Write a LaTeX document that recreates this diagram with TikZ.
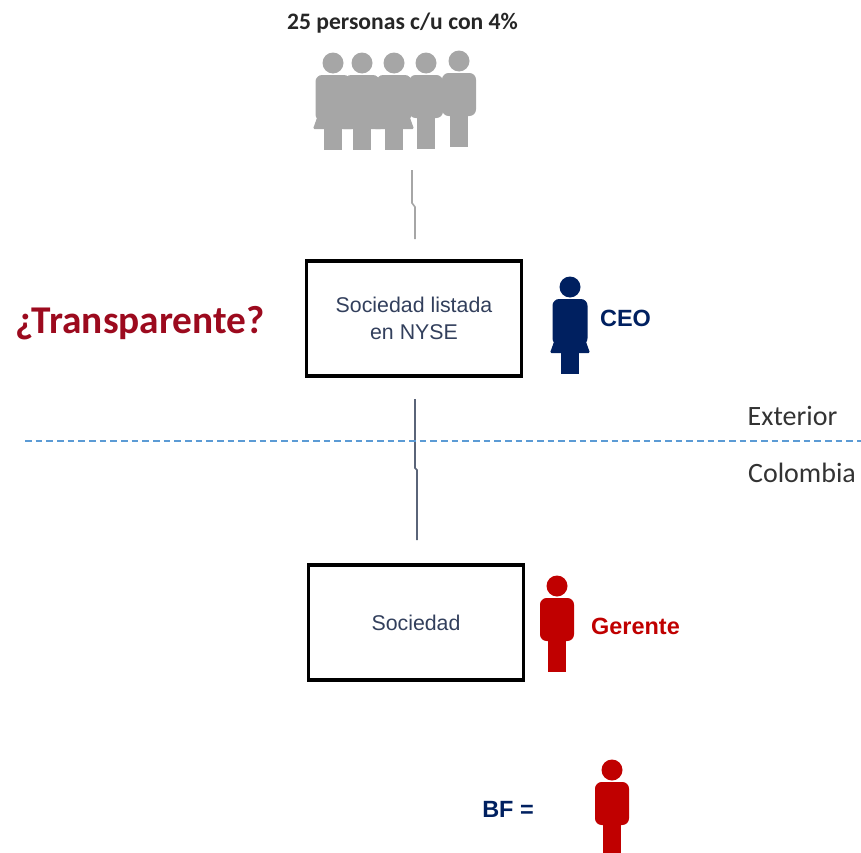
\documentclass[tikz,border=0pt]{standalone}
\usepackage{fontspec}
\setmainfont{Liberation Sans}
\newfontfamily\calibri{Carlito}
\definecolor{azul}{HTML}{002060}
\definecolor{rojo}{HTML}{C00000}
\definecolor{gris}{HTML}{A6A6A6}
\definecolor{pizarra}{HTML}{323F5C}
\definecolor{vino}{HTML}{9C0A1E}
\definecolor{guion}{HTML}{5B9BD5}
\definecolor{linea}{HTML}{5A6478}
\tikzset{
    caja/.style={draw=black, line width=2.6pt, minimum width=161pt, minimum height=86pt, align=center, text=pizarra, font=\fontsize{16}{20.2}\selectfont, inner sep=0pt},
    etiqueta/.style={inner sep=0pt, font=\bfseries\fontsize{17.6}{21}\selectfont},
    lado/.style={inner sep=0pt, text=black!80, font=\calibri\fontsize{21}{25}\selectfont},
    hombre/.pic={
        \fill (0,0) circle (10.5);
        \fill[rounded corners=5pt] (-17,12) rectangle (17,55);
        \fill (-9,50) rectangle (9,86);
    },
    mujer/.pic={
        \fill (0,0) circle (10.5);
        \fill[rounded corners=5pt] (-17.5,12) rectangle (17.5,58);
        \fill[rounded corners=1pt] (-15,52) -- (15,52) -- (20,66) -- (-20,66) -- cycle;
        \fill (-9,60) rectangle (9,87);
    }
}
\begin{document}
\begin{tikzpicture}[x=0.75pt, y=-0.75pt]
    \useasboundingbox (0,0) rectangle (861,853);

    \node (titulo) [inner sep=0pt, text=black!85, font=\calibri\bfseries\fontsize{17.7}{20}\selectfont] at (402.5,23) {25 personas c/u con 4\%};

    % grupo de arriba
    \foreach \px/\py/\tipo in {333/63/mujer, 362/63/mujer, 394/63/mujer, 426/63/hombre, 459/61/hombre}
        \pic[fill=gris] at (\px,\py) {\tipo};

    \node (nyse) [caja] at (414,318.5) {Sociedad listada\\en NYSE};
    \node (sociedad) [caja] at (416,622.5) {Sociedad};

    \node (transparente) [inner sep=0pt, text=vino, font=\calibri\bfseries\fontsize{29.5}{32}\selectfont] at (140,323) {¿Transparente?};

    \pic[fill=azul] at (570,287) {mujer};
    \node (ceo) [etiqueta, text=azul] at (625.5,318) {CEO};
    \pic[fill=rojo] at (557,586) {hombre};
    \node (gerente) [etiqueta, text=rojo] at (635.5,626.5) {Gerente};
    \node (bf) [etiqueta, text=azul] at (508,809) {BF =};
    \pic[fill=rojo] at (612,770) {hombre};

    \node (exterior) [lado] at (792.5,416) {Exterior};
    \node (colombia) [lado] at (802,473) {Colombia};

    \coordinate (grupo) at (412,170);
    \coordinate (arriba) at (415,239);
    \coordinate (salida) at (415,399);
    \coordinate (llegada) at (417,540);
    \coordinate (izq) at (25,441);
    \coordinate (der) at (861,441);

    % lineas de participacion
    \draw[gris, line width=1.2pt] (grupo) -- (412,203) -- (415,207) -- (arriba);
    \draw[linea, line width=1.3pt] (salida) -- (415,468) -- (417,470) -- (llegada);
    \draw[guion, line width=0.8pt, dash pattern=on 5pt off 3pt] (izq) -- (der);
\end{tikzpicture}
\end{document}
